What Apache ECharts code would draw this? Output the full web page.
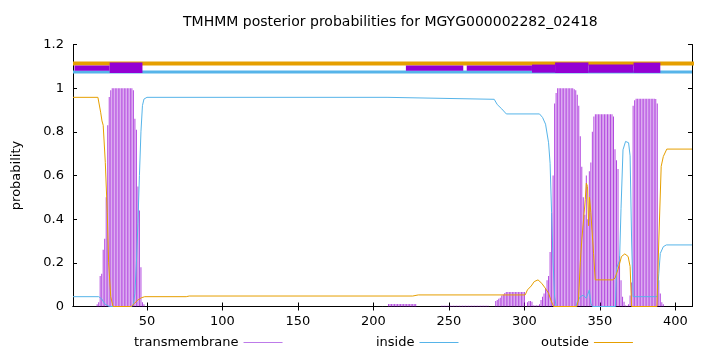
<!DOCTYPE html>
<html>
<head>
<meta charset="utf-8">
<script src="https://cdn.jsdelivr.net/npm/echarts@6/dist/echarts.min.js"></script>
<style>html,body{margin:0;padding:0;background:#fff;}#c{width:720px;height:352px;}</style>
</head>
<body>
<div id="c"></div>
<script>
// ---------- data ----------
const titleText = 'TMHMM posterior probabilities for MGYG000002282_02418';
const xTicks = [50, 100, 150, 200, 250, 300, 350, 400];
const xMin = 1, xMax = 411;

// transmembrane posterior (impulses), consecutive residues from the start index
const tm1Start = 17;
const tm1 = [0.01,0.02,0.14,0.15,0.26,0.31,0.50,0.83,0.96,0.99,
  1,1,1,1,1,1,1,1,1,1,1,1,1,1,
  0.99,0.86,0.81,0.55,0.44,0.18,0.02,0.01];
const tm2Start = 210;
const tm2 = [0.012,0.012,0.012,0.012,0.012,0.012,0.012,0.012,0.012,0.012,
  0.012,0.012,0.012,0.012,0.012,0.012,0.012,0.012,0.012];
const tm3Start = 245;
const tm3 = [0.003,0.003,0.003,0.003,0.003,0.003,0.003,0.003,0.003,0.003,
  0.003,0.003,0.003,0.003,0.003,0.003,0.003,0.003,0.003,0.003,
  0.003,0.003,0.003,0.003,0.003,0.003,0.003,0.003,0.003,0.003,0.003,0.003];
const tm4Start = 281;
const tm4 = [0.025,0.03,0.035,0.04,0.05,0.055,0.062,
  0.066,0.066,0.066,0.066,0.066,0.066,0.066,0.066,0.066,0.066,0.066,0.066,0.066];
const tm5Start = 302;
const tm5 = [0.02,0.025,0.025,0.022,0.005,0.005,0.005,0.005,
  0.01,0.03,0.045,0.06,0.083,0.12,0.14,0.25,0.43,0.60,0.93,0.978,
  1,1,1,1,1,1,1,1,1,1,1,
  0.995,0.99,0.97,0.92,0.78,0.64,0.50,0.42,0.60,0.40,0.62,0.66,0.80,0.87,
  0.88,0.88,0.88,0.88,0.88,0.88,0.88,0.88,0.88,0.88,0.88,0.88,
  0.87,0.72,0.67,0.63,0.23,0.12,0.045,0.022,0.005,0.003,0.01,0.05,0.11,0.92,0.945,
  0.952,0.952,0.952,0.952,0.952,0.952,0.952,0.952,0.952,0.952,0.952,0.952,0.952,
  0.95,0.93,0.12,0.06,0.02,0.01];

// inside posterior (line), [residue, probability]
const inside = [[1,0.045],[18,0.045],[20,0.035],[22,0.012],[25,0],[40,0],[41,0.01],[42,0.06],
  [43,0.2],[44,0.38],[45,0.6],[46,0.8],[47,0.92],[48,0.95],[50,0.958],[209,0.958],[210,0.949],
  [280,0.949],[282,0.925],[285,0.905],[288,0.882],[310,0.882],[312,0.866],[314,0.835],
  [316,0.75],[317,0.656],[318,0.43],[319,0.2],[320,0.045],[321,0],[334,0],[335,0.02],
  [337,0.045],[339,0.052],[341,0.038],[343,0.076],[344,0.015],[345,0],[360.3,0],[361,0.175],
  [363,0.21],[364,0.45],[365.3,0.718],[367,0.756],[369,0.75],[370,0.69],[371,0.3],[372,0.045],
  [388,0.045],[389,0.15],[390,0.243],[392,0.274],[394,0.282],[411,0.282]];

// outside posterior (line), [residue, probability]
const outside = [[1,0.958],[17.5,0.958],[18.6,0.95],[19.3,0.89],[20.2,0.85],[21,0.83],
  [22.4,0.66],[23.7,0.43],[24.6,0.2],[26,0.045],[27.5,0],[39.6,0],[41.8,0.015],[44,0.03],
  [46.3,0.04],[48.5,0.045],[76,0.045],[78,0.048],[226,0.048],[229.7,0.053],[300.5,0.053],
  [302,0.076],[304.5,0.094],[306.5,0.114],[309,0.122],[311.5,0.106],[313.7,0.085],[316,0.061],
  [317.5,0.03],[319.3,0],[334.7,0],[335.8,0.03],[337,0.2],[338,0.305],[339.2,0.4],[340.3,0.49],
  [341,0.565],[341.8,0.55],[342.5,0.37],[343.1,0.5],[344,0.43],[345.8,0.243],[346.9,0.122],
  [348,0.117],[358.6,0.122],[360,0.13],[362,0.17],[364.3,0.229],[366.5,0.241],[368.7,0.229],
  [370,0.183],[371,0],[387.8,0],[389,0.3],[390.6,0.642],[392,0.687],[394.3,0.721],[411,0.721]];

// predicted topology band at the top: [start, end, kind] (kind 0 thin, 1 thick, 2 medium)
const topoBoxes = [[2,25.3,0],[25.3,47,1],[221.5,259.5,0],[261.8,305,0],[305,320.3,2],
  [320.3,342.4,1],[342.4,372.3,2],[372.3,390,1]];
const outsideBar = [[1,1.113],[430,1.113]];
const insideBar = [[1,1.074],[411,1.074]];

// ---------- build ----------
function impulses(start, vals){ return vals.map((v,i)=>[start+i, v]); }
const tmData = [].concat(impulses(tm1Start,tm1), impulses(tm2Start,tm2), impulses(tm3Start,tm3),
  impulses(tm4Start,tm4), impulses(tm5Start,tm5));

const C_TM = '#9400d3', C_IN = '#56b4e9', C_OUT = '#e69f00';
const FONT = 'DejaVu Sans';
const boxY = [[1.080,1.104],[1.070,1.117],[1.071,1.108]];

const chart = echarts.init(document.getElementById('c'), null, {renderer:'canvas'});
const axisCommon = {
  min: xMin, max: xMax, type: 'value',
  axisLine: {show:true, lineStyle:{color:'#000', width:1}},
  splitLine: {show:false}
};
const legendCommon = {
  orient:'horizontal', top: 336, padding: 0, align:'right', icon:'rect',
  itemWidth: 39, itemHeight: 1, selectedMode:false,
  textStyle:{fontFamily:FONT, fontSize:13, color:'#000'}
};
chart.setOption({
  animation: false,
  backgroundColor: '#fff',
  title: {text: titleText, left: 183, top: 15, padding: 0,
    textStyle:{fontFamily:FONT, fontSize:14, fontWeight:'normal', color:'#000'}},
  legend: [
    Object.assign({left: 134, data:[{name:'transmembrane', itemStyle:{color:'#a448e0'}}]}, legendCommon),
    Object.assign({left: 376, data:['inside']}, legendCommon),
    Object.assign({left: 541, data:['outside']}, legendCommon)
  ],
  grid: {left: 73, right: 28, top: 44.5, bottom: 45.5, containLabel:false},
  xAxis: [
    Object.assign({position:'bottom',
      axisTick:{show:true, inside:true, length:4, customValues:xTicks, lineStyle:{color:'#000'}},
      axisLabel:{show:true, customValues:xTicks, margin:9, fontFamily:FONT, fontSize:13, color:'#000'}
    }, axisCommon),
    Object.assign({position:'top',
      axisTick:{show:true, inside:true, length:4, customValues:xTicks, lineStyle:{color:'#000'}},
      axisLabel:{show:false}
    }, axisCommon)
  ],
  yAxis: [
    {type:'value', min:0, max:1.2, interval:0.2, position:'left',
     name:'probability', nameLocation:'middle', nameGap:50, nameRotate:90,
     nameTextStyle:{fontFamily:FONT, fontSize:13, color:'#000'},
     axisLine:{show:true, lineStyle:{color:'#000'}},
     axisTick:{show:true, inside:true, length:4, lineStyle:{color:'#000'}},
     axisLabel:{margin:9, fontFamily:FONT, fontSize:13, color:'#000'},
     splitLine:{show:false}},
    {type:'value', min:0, max:1.2, interval:0.2, position:'right',
     axisLine:{show:true, lineStyle:{color:'#000'}},
     axisTick:{show:true, inside:true, length:4, lineStyle:{color:'#000'}},
     axisLabel:{show:false}, splitLine:{show:false}}
  ],
  series: [
    {name:'transmembrane', type:'bar', data: tmData, barWidth: 1,
     itemStyle:{color:C_TM, opacity:0.72}, z:2, silent:true},
    {name:'inside', type:'line', data: inside, showSymbol:false, symbol:'none',
     lineStyle:{color:C_IN, width:1}, itemStyle:{color:C_IN}, z:3, silent:true},
    {name:'outside', type:'line', data: outside, showSymbol:false, symbol:'none',
     lineStyle:{color:C_OUT, width:1}, itemStyle:{color:C_OUT}, z:4, silent:true},
    {name:'outsideBar', type:'line', data: outsideBar, showSymbol:false, symbol:'none', clip:false,
     lineStyle:{color:C_OUT, width:4}, z:5, silent:true},
    {name:'insideBar', type:'line', data: insideBar, showSymbol:false, symbol:'none',
     lineStyle:{color:C_IN, width:3}, z:5, silent:true},
    {name:'topology', type:'custom', data: topoBoxes, z:6, silent:true, clip:false,
     renderItem: function(params, api){
       const k = api.value(2);
       const p0 = api.coord([api.value(0), boxY[k][1]]);
       const p1 = api.coord([api.value(1), boxY[k][0]]);
       return {type:'rect', shape:{x:p0[0], y:p0[1], width:p1[0]-p0[0], height:p1[1]-p0[1]},
         style:{fill:C_TM}};
     }}
  ]
});
</script>
</body>
</html>
